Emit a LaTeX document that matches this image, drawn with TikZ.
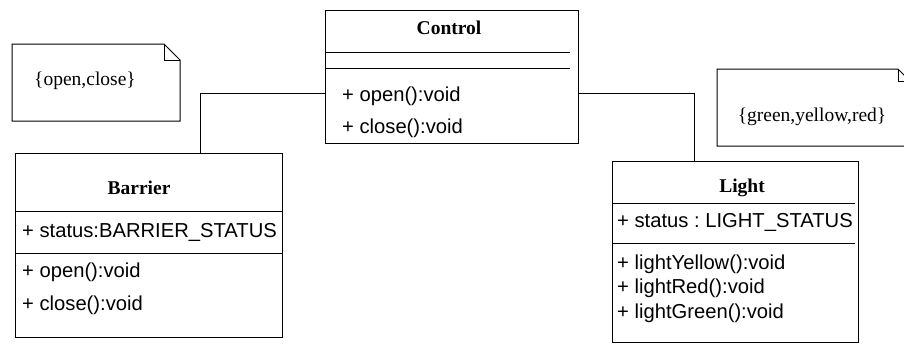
\documentclass[tikz,border=0pt]{standalone}
\usepackage{fontspec}
\setmainfont{Liberation Serif}
\setsansfont{Liberation Sans}
\usepackage{tikz}
\usetikzlibrary{calc}
\usetikzlibrary{positioning}
\frenchspacing
\tikzstyle{classbox} = [draw, line width = 1pt, inner sep = 0, anchor = north west]
\tikzstyle{classname} = [font = \fontsize{19.5}{22}\selectfont\bfseries, inner sep = 0]
\tikzstyle{member} = [font = \sffamily\fontsize{20.2}{24}\selectfont, inner sep = 0, anchor = west]
\tikzstyle{notetext} = [font = \fontsize{19.5}{22}\selectfont, inner sep = 0]
\tikzstyle{sep} = [line width = 1pt]
\tikzstyle{assoc} = [-, line width = 1pt]

\begin{document}
\begin{tikzpicture}[x = 1pt, y = -1pt]
\useasboundingbox (0, 0) rectangle (904, 343);
% Control
\node [classbox, minimum width = 253, minimum height = 133] (control) at (325, 10) {};
\node [classname] (controlname) at (449, 28) {Control};
\draw [sep] (325, 52) -- (570, 52);
\draw [sep] (325, 68) -- (570, 68);
\node [member] (controlopen) at (342, 96) {+ open():void};
\node [member] (controlclose) at (342, 128) {+ close():void};
% Barrier
\node [classbox, minimum width = 267, minimum height = 184] (barrier) at (15, 153) {};
\node [classname] (barriername) at (139, 188) {Barrier};
\draw [sep] (15, 211) -- (282, 211);
\node [member] (barrierstatus) at (22, 232) {+ status:BARRIER\_STATUS};
\draw [sep] (15, 253) -- (282, 253);
\node [member] (barrieropen) at (22, 272) {+ open():void};
\node [member] (barrierclose) at (22, 305) {+ close():void};
% Light
\node [classbox, minimum width = 246, minimum height = 181] (light) at (612, 161) {};
\node [classname] (lightname) at (742, 188) {Light};
\draw [sep] (612, 203) -- (855, 203);
\node [member] (lightstatus) at (617, 222) {+ status : LIGHT\_STATUS};
\draw [sep] (612, 243) -- (855, 243);
\node [member] (lightyellow) at (617, 264) {+ lightYellow():void};
\node [member] (lightred) at (617, 288) {+ lightRed():void};
\node [member] (lightgreen) at (617, 313) {+ lightGreen():void};
% notes
\node [notetext] (opennote) at (85, 81) {\{open,close\}};
\draw [sep] (12, 44) -- (164, 44) -- (180, 60) -- (180, 121) -- (12, 121) -- cycle;
\draw [sep] (164, 44) -- (164, 60) -- (180, 60);
\node [notetext] (colournote) at (812, 117) {\{green,yellow,red\}};
\draw [sep] (717, 69) -- (898, 69) -- (910, 81) -- (910, 146) -- (717, 146) -- cycle;
\draw [sep] (898, 69) -- (898, 81) -- (910, 81);
% associations
\draw [assoc] ([yshift = -16.5pt] control.west) -| ([xshift = 51.5pt] barrier.north);
\draw [assoc] ([yshift = -16.5pt] control.east) -| ([xshift = -41pt] light.north);
\end{tikzpicture}
\end{document}
